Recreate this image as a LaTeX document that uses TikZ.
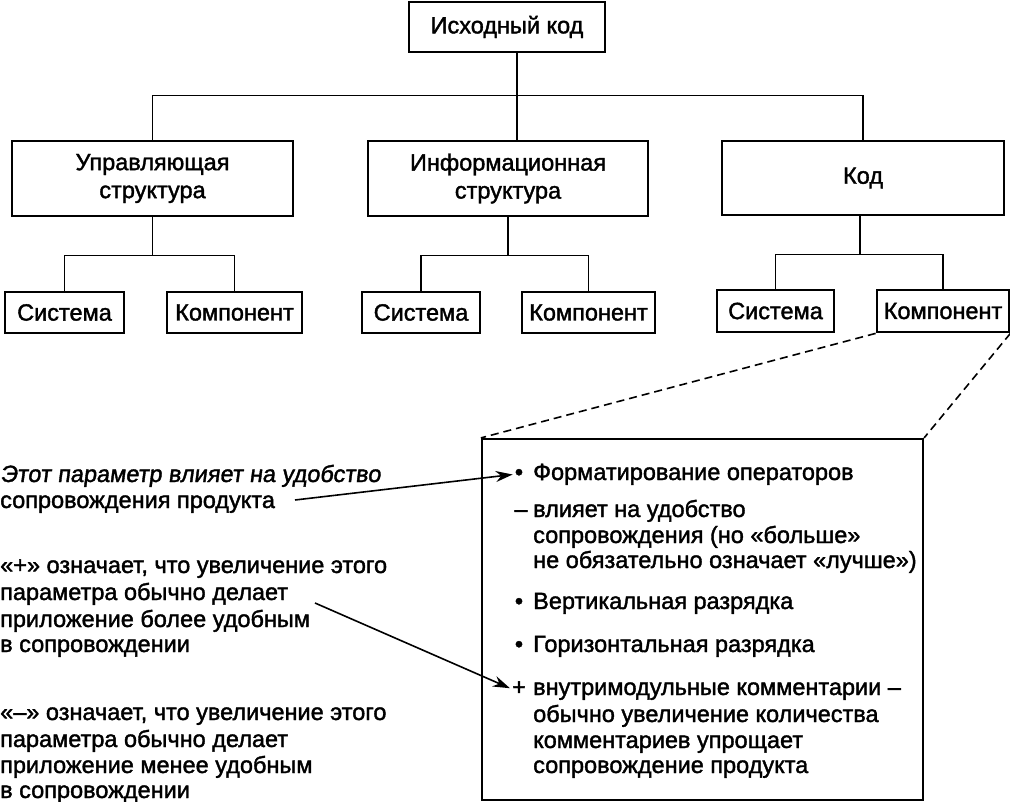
\documentclass[tikz,border=0pt]{standalone}
\usepackage{fontspec}
\setmainfont[FakeBold=1.6]{Liberation Sans}
\newfontfamily\slfont[FakeBold=1.6,FakeSlant=0.13]{Liberation Sans}
\usetikzlibrary{arrows.meta}
\begin{document}
\begin{tikzpicture}[x=1pt,y=-1pt,
 box/.style={draw,line width=2.8pt,align=center,inner sep=0pt,font=\fontsize{23.5}{28}\selectfont},
 conn/.style={line width=1.7pt},
 txt/.style={anchor=base west,inner sep=0pt,font=\fontsize{23.5}{26}\selectfont},
 mk/.style={anchor=base,inner sep=0pt,font=\fontsize{23.5}{26}\selectfont},
 arr/.style={line width=1.6pt,-{Stealth[length=17pt,width=11pt]}},
 dsh/.style={line width=1.6pt,dash pattern=on 8pt off 5pt}]
\path[use as bounding box] (0,0) rectangle (1010,802);
% level 1
\node[box,minimum width=196pt,minimum height=50pt] (top) at (507,27) {Исходный код};
% level 2
\node[box,minimum width=281pt,minimum height=75pt] (b1) at (152.5,178.5) {Управляющая\\структура};
\node[box,minimum width=280pt,minimum height=75pt] (b2) at (508,178.5) {Информационная\\структура};
\node[box,minimum width=282pt,minimum height=74pt] (b3) at (863,178) {Код};
% level 3
\node[box,minimum width=119pt,minimum height=41pt] (s1) at (64.5,312.5) {Система};
\node[box,minimum width=135pt,minimum height=41pt] (k1) at (234.5,312.5) {Компонент};
\node[box,minimum width=118pt,minimum height=41pt] (s2) at (421,312.5) {Система};
\node[box,minimum width=133pt,minimum height=41pt] (k2) at (588.5,312.5) {Компонент};
\node[box,minimum width=117pt,minimum height=42pt] (s3) at (775.5,311) {Система};
\node[box,minimum width=132pt,minimum height=42pt] (k3) at (943,311) {Компонент};
% connectors
\draw[conn] ([xshift=10pt]top.south) -- ([xshift=9pt]b2.north);
\draw[conn] (b1.north) -- ++(0,-44) -| (b3.north);
\draw[conn] (b1.south) -- ++(0,38) coordinate (j1);
\draw[conn] (s1.north) |- (j1) -| (k1.north);
\draw[conn] (b2.south) -- ++(0,38) coordinate (j2);
\draw[conn] (s2.north) |- (j2) -| (k2.north);
\draw[conn] ([xshift=-3pt]b3.south) -- ++(0,38) coordinate (j3);
\draw[conn] (s3.north) |- (j3) -| (k3.north);
% detail box
\node[draw,line width=2.2pt,minimum width=441pt,minimum height=361pt,inner sep=0pt] (big) at (702.5,619.5) {};
\draw[dsh] (k3.south west) -- (big.north west);
\draw[dsh] (k3.south east) -- (big.north east);
% markers
\node[mk] (m1) at (519,480) {•};
\node[mk] (m2) at (521,517) {–};
\node[mk] (m3) at (519,609) {•};
\node[mk] (m4) at (519,652) {•};
\node[mk] (m5) at (519,695) {+};
% box texts
\node[txt] (t1) at (533,480) {Форматирование операторов};
\node[txt] (t2) at (533,517) {влияет на удобство};
\node[txt] (t3) at (533,543) {сопровождения (но «больше»};
\node[txt] (t4) at (533,568) {не обязательно означает «лучше»)};
\node[txt] (t5) at (533,609) {Вертикальная разрядка};
\node[txt] (t6) at (533,652) {Горизонтальная разрядка};
\node[txt] (t7) at (533,695) {внутримодульные комментарии –};
\node[txt] (t8) at (533,722) {обычно увеличение количества};
\node[txt] (t9) at (533,748) {комментариев упрощает};
\node[txt] (t10) at (533,773) {сопровождение продукта};
% left texts
\node[txt,font=\fontsize{23.5}{26}\slfont] (l1) at (0,482) {Этот параметр влияет на удобство};
\node[txt] (l2) at (0,508) {сопровождения продукта};
\node[txt] (p1) at (0,573) {«+» означает, что увеличение этого};
\node[txt] (p2) at (0,600) {параметра обычно делает};
\node[txt] (p3) at (0,627) {приложение более удобным};
\node[txt] (p4) at (0,652) {в сопровождении};
\node[txt] (n1) at (0,720) {«–» означает, что увеличение этого};
\node[txt] (n2) at (0,747) {параметра обычно делает};
\node[txt] (n3) at (0,773) {приложение менее удобным};
\node[txt] (n4) at (0,798) {в сопровождении};
% arrows
\coordinate (a1s) at (295,500);
\coordinate (a2s) at (315,603);
\draw[arr] (a1s) -- ([xshift=-2pt]m1.west);
\draw[arr] (a2s) -- ([xshift=-2pt]m5.west);
\end{tikzpicture}
\end{document}
